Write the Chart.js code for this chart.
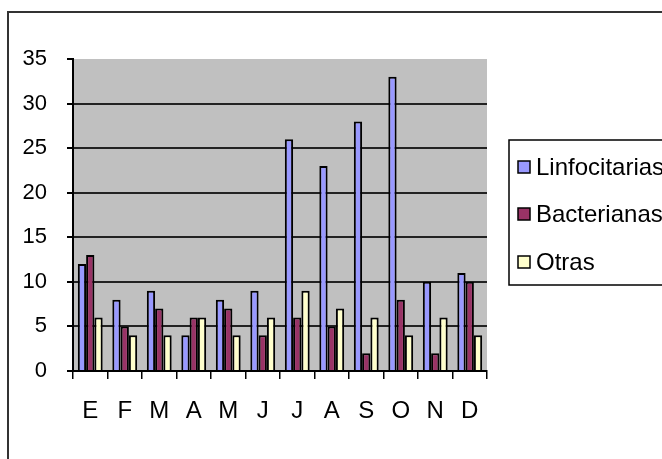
<!DOCTYPE html>
<html lang="es">
<head>
  <meta charset="UTF-8">
  <title>Meningitis por mes</title>
  <script src="https://cdn.jsdelivr.net/npm/chart.js"></script>
  <style>
    body { margin: 0; background: #fff; }
    #wrap { width: 662px; height: 459px; }
  </style>
</head>
<body>
  <div id="wrap"><canvas id="myChart" width="662" height="459"></canvas></div>

  <script>
    // data
    const months = ['E', 'F', 'M', 'A', 'M', 'J', 'J', 'A', 'S', 'O', 'N', 'D'];
    const linfocitarias = [12, 8, 9, 4, 8, 9, 26, 23, 28, 33, 10, 11];
    const bacterianas = [13, 5, 7, 6, 7, 4, 6, 5, 2, 8, 2, 10];
    const otras = [6, 4, 4, 6, 4, 6, 9, 7, 6, 4, 6, 4];
    const yTicks = [0, 5, 10, 15, 20, 25, 30, 35];

    const sans = "'Liberation Sans', Arial, sans-serif";

    // grey plot area + outer frame
    const backdrop = {
      id: 'backdrop',
      beforeDraw(chart) {
        const { ctx, chartArea: a } = chart;
        ctx.save();
        ctx.fillStyle = '#c0c0c0';
        ctx.fillRect(a.left, a.top, a.right - a.left, a.bottom - a.top);
        ctx.strokeStyle = '#333';
        ctx.lineWidth = 2;
        ctx.strokeRect(8, 12, 700, 500);
        ctx.restore();
      }
    };

    // Excel-like boxed legend on the right
    const boxLegend = {
      id: 'boxLegend',
      afterDraw(chart) {
        const ctx = chart.ctx;
        ctx.save();
        ctx.strokeStyle = '#000';
        ctx.lineWidth = 1.5;
        ctx.strokeRect(509, 140, 220, 145);
        ctx.font = '24px ' + sans;
        ctx.textBaseline = 'middle';
        ctx.textAlign = 'left';
        const rows = [167, 214, 262];
        chart.data.datasets.forEach((ds, i) => {
          const y = rows[i];
          ctx.fillStyle = ds.backgroundColor;
          ctx.fillRect(518, y - 6, 12, 12);
          ctx.strokeStyle = '#000';
          ctx.lineWidth = 1.5;
          ctx.strokeRect(518, y - 6, 12, 12);
          ctx.fillStyle = '#000';
          ctx.fillText(ds.label, 536, y + 1);
        });
        ctx.restore();
      }
    };

    const ctx = document.getElementById('myChart').getContext('2d');
    const myChart = new Chart(ctx, {
      type: 'bar',
      data: {
        labels: months,
        datasets: [
          { label: 'Linfocitarias', data: linfocitarias, backgroundColor: '#9999ff' },
          { label: 'Bacterianas', data: bacterianas, backgroundColor: '#993366' },
          { label: 'Otras', data: otras, backgroundColor: '#ffffcc' }
        ]
      },
      options: {
        responsive: false,
        animation: false,
        layout: { padding: { top: 59, right: 175, left: 0, bottom: 0 } },
        datasets: {
          bar: {
            borderColor: '#000',
            borderWidth: 2,
            categoryPercentage: 0.72,
            barPercentage: 1
          }
        },
        plugins: {
          legend: { display: false },
          tooltip: { enabled: false }
        },
        scales: {
          x: {
            afterFit(scale) { scale.height = 88; },
            grid: {
              offset: true,
              drawOnChartArea: false,
              drawTicks: true,
              tickLength: 8,
              color: '#000',
              lineWidth: 1.5
            },
            border: { color: '#000', width: 2 },
            ticks: {
              padding: 18,
              color: '#000',
              font: { family: sans, size: 24 }
            }
          },
          y: {
            min: 0,
            max: 35,
            afterFit(scale) { scale.width = 73; },
            afterBuildTicks(scale) { scale.ticks = yTicks.map(v => ({ value: v })); },
            grid: {
              color: c => (c.tick && c.tick.value === 35 ? 'rgba(0,0,0,0)' : '#222'),
              tickColor: '#000',
              lineWidth: 2,
              tickLength: 6
            },
            border: { color: '#000', width: 2 },
            ticks: {
              padding: 20,
              color: '#000',
              font: { family: sans, size: 22 }
            }
          }
        }
      },
      plugins: [backdrop, boxLegend]
    });
  </script>
</body>
</html>
